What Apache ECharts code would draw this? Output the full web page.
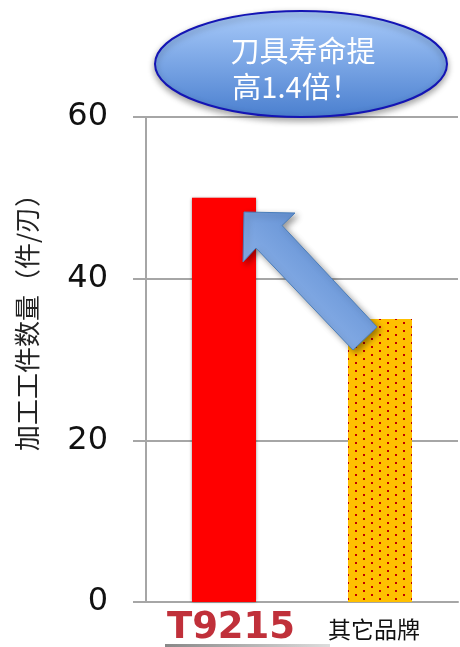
<!DOCTYPE html>
<html>
<head>
<meta charset="utf-8">
<script src="https://cdn.jsdelivr.net/npm/echarts@6/dist/echarts.min.js"></script>
<style>
html,body{margin:0;padding:0;background:#fff;}
#chart{width:460px;height:647px;}
</style>
</head>
<body>
<div id="chart"></div>
<script>
// ---- data ----
var categories = ['T9215', '其它品牌'];
var values = [50, 35];
var yTicks = [0, 20, 40, 60];
var yAxisTitle = '加工工件数量（件/刃）';
var calloutLines = ['刀具寿命提', '高1.4倍！'];

// dotted pattern for second bar
function makePattern() {
  var c = document.createElement('canvas');
  c.width = 16; c.height = 8;
  var ctx = c.getContext('2d');
  ctx.fillStyle = '#FFC000';
  ctx.fillRect(0, 0, 16, 8);
  ctx.fillStyle = '#C00000';
  ctx.fillRect(3, 2, 2, 2);
  ctx.fillRect(11, 6, 2, 2);
  return c;
}

var barStyles = [
  { color: '#FF0000', shadowBlur: 3, shadowColor: 'rgba(0,0,0,0.45)' },
  { color: { image: makePattern(), repeat: 'repeat' } }
];

var chart = echarts.init(document.getElementById('chart'), null, { renderer: 'canvas' });

var option = {
  animation: false,
  backgroundColor: '#fff',
  grid: { left: 146, right: 2, top: 117, bottom: 43, containLabel: false },
  xAxis: {
    type: 'category',
    data: categories,
    axisLine: { show: true, lineStyle: { color: '#A6A6A6', width: 2 } },
    axisTick: { show: false },
    axisLabel: {
      margin: 8,
      formatter: function (v) {
        return v === categories[0] ? '{logo|' + v + '}' : '{other|' + v + '}';
      },
      rich: {
        logo: {
          fontFamily: 'DejaVu Sans', fontWeight: 'bold', fontSize: 37,
          color: '#C0303A', padding: [0, 0, 0, 14]
        },
        other: {
          fontFamily: 'Noto Sans CJK SC', fontSize: 23, color: '#111',
          padding: [8, 12, 0, 0]
        }
      }
    }
  },
  yAxis: {
    type: 'value',
    min: yTicks[0],
    max: yTicks[yTicks.length - 1],
    interval: yTicks[1] - yTicks[0],
    axisLine: { show: true, lineStyle: { color: '#A6A6A6', width: 2 } },
    axisTick: { show: true, inside: false, length: 13, lineStyle: { color: '#A6A6A6', width: 2 } },
    axisLabel: {
      margin: 38,
      fontFamily: 'DejaVu Sans', fontSize: 32, color: '#111'
    },
    splitLine: { show: true, lineStyle: { color: '#A6A6A6', width: 2 } }
  },
  series: [{
    type: 'bar',
    barWidth: 64,
    data: values.map(function (v, i) { return { value: v, itemStyle: barStyles[i] }; })
  }],
  graphic: [
    {
      type: 'text', z: 100,
      x: 27, y: 316, rotation: Math.PI / 2,
      style: {
        text: yAxisTitle, fontFamily: 'Noto Sans CJK SC', fontSize: 26,
        fill: '#222', align: 'center', verticalAlign: 'middle'
      }
    },
    {
      type: 'polygon', z: 100,
      shape: { points: [[244, 212], [295, 213], [282, 225.5], [377, 327], [353, 350], [256, 248], [243, 262]] },
      style: {
        fill: {
          type: 'linear', x: 0, y: 1, x2: 1, y2: 0,
          colorStops: [{ offset: 0, color: '#A7C8F8' }, { offset: 1, color: '#4A7CC6' }]
        },
        stroke: '#4A7EBB', lineWidth: 1,
        shadowBlur: 6, shadowOffsetX: 3, shadowOffsetY: 3, shadowColor: 'rgba(0,0,0,0.4)'
      }
    },
    {
      type: 'ellipse', z: 100,
      shape: { cx: 301, cy: 64, rx: 146, ry: 53 },
      style: {
        fill: {
          type: 'linear', x: 0, y: 0, x2: 0, y2: 1,
          colorStops: [{ offset: 0, color: '#A9CBFA' }, { offset: 1, color: '#4A7FCF' }]
        },
        stroke: '#1414B4', lineWidth: 2,
        shadowBlur: 6, shadowOffsetY: 3, shadowColor: 'rgba(0,0,0,0.35)'
      }
    },
    {
      type: 'text', z: 101, x: 303, y: 51,
      style: {
        text: calloutLines[0], fontFamily: 'Noto Sans CJK SC', fontSize: 29,
        fill: '#fff', align: 'center', verticalAlign: 'middle'
      }
    },
    {
      type: 'text', z: 101, x: 296, y: 87,
      style: {
        text: calloutLines[1], fontFamily: 'Noto Sans CJK SC', fontSize: 29,
        fill: '#fff', align: 'center', verticalAlign: 'middle'
      }
    },
    {
      type: 'rect', z: 100,
      shape: { x: 165, y: 644, width: 165, height: 3 },
      style: {
        fill: {
          type: 'linear', x: 0, y: 0, x2: 1, y2: 0,
          colorStops: [{ offset: 0, color: '#888' }, { offset: 1, color: '#ddd' }]
        }
      }
    }
  ]
};
chart.setOption(option);
</script>
</body>
</html>
